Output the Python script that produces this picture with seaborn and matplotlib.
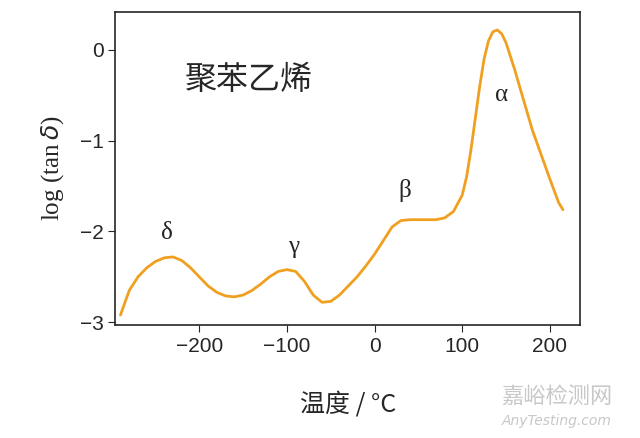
import matplotlib
matplotlib.use("Agg")
import matplotlib.pyplot as plt
import seaborn as sns
import pandas as pd

# values
temp = [-290, -280, -270, -260, -250, -240, -230, -220, -210, -200, -190, -180, -170,
        -160, -150, -140, -130, -120, -110, -100, -90, -80, -70, -60, -50, -40, -30,
        -20, -10, 0, 10, 20, 30, 40, 50, 60, 70, 80, 90, 100, 105, 110, 115, 120, 125,
        130, 135, 140, 145, 150, 160, 170, 180, 190, 200, 210, 215]
log_tan = [-2.92, -2.65, -2.5, -2.4, -2.33, -2.29, -2.28, -2.32, -2.4, -2.5, -2.6, -2.67,
           -2.71, -2.72, -2.7, -2.65, -2.58, -2.5, -2.44, -2.42, -2.44, -2.55, -2.7, -2.78,
           -2.77, -2.7, -2.6, -2.5, -2.38, -2.25, -2.1, -1.95, -1.88, -1.87, -1.87, -1.87,
           -1.87, -1.85, -1.78, -1.6, -1.4, -1.1, -0.75, -0.4, -0.1, 0.1, 0.2, 0.22, 0.18,
           0.08, -0.22, -0.55, -0.88, -1.15, -1.42, -1.68, -1.76]
peak_labels = ["δ", "γ", "β", "α"]
peak_x = [-237, -92, 35, 145]
peak_y = [-2.02, -2.17, -1.55, -0.5]

df = pd.DataFrame({"temp": temp, "log_tan": log_tan})

sns.set_style("ticks")
plt.rcParams["font.family"] = ["Liberation Serif", "Noto Sans CJK SC", "DejaVu Sans"]

fig = plt.figure(figsize=(6.4, 4.38), dpi=100)
ax = fig.add_axes([0.18, 0.258, 0.727, 0.715])
sns.lineplot(data=df, x="temp", y="log_tan", ax=ax, color="#f0a020", linewidth=2)

ax.set_xlim(-296, 235)
ax.set_ylim(-3.03, 0.42)
ax.set_xticks([-200, -100, 0, 100, 200])
ax.set_xticklabels(["−200", "−100", "0", "100", "200"])
ax.set_yticks([0, -1, -2, -3])
ax.set_yticklabels(["0", "−1", "−2", "−3"])
ax.tick_params(labelsize=15, direction="out", length=5)
for lab in ax.get_xticklabels() + ax.get_yticklabels():
    lab.set_family(["Liberation Sans", "DejaVu Sans"])
for s in ax.spines.values():
    s.set_linewidth(1.2)
    s.set_visible(True)

ax.set_xlabel("温度 / °C", fontsize=18, family=["Noto Sans CJK SC", "DejaVu Sans"], labelpad=26)
ax.set_ylabel("log (tan$\\,\\delta$)", fontsize=18, labelpad=10)

for lab, x, y in zip(peak_labels, peak_x, peak_y):
    ax.text(x, y, lab, fontsize=18, ha="center", va="center")
ax.text(-143, -0.33, "聚苯乙烯", fontsize=23, ha="center", va="center",
        family=["Noto Sans CJK SC"])

fig.text(0.87, 0.08, "嘉峪检测网", fontsize=16, color="#c8c8c8", ha="center",
         family=["Noto Sans CJK SC"])
fig.text(0.87, 0.03, "AnyTesting.com", fontsize=10, color="#c8c8c8", ha="center",
         style="italic", family=["DejaVu Sans"])

fig.savefig("out.png", dpi=100)
